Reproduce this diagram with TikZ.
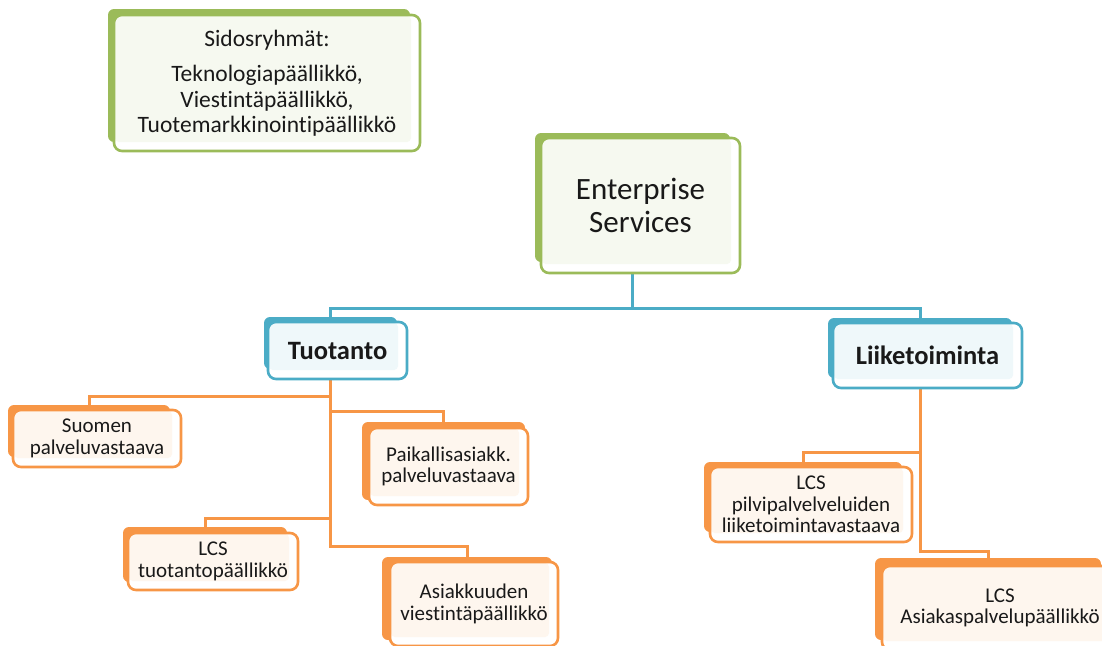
\documentclass[tikz,border=0pt]{standalone}
\usepackage{fontspec}
\setmainfont{Carlito}[Ligatures=NoCommon]
\usetikzlibrary{backgrounds}
\definecolor{lcgreen}{HTML}{9BBB59}
\definecolor{lcblue}{HTML}{4BACC6}
\definecolor{lcorange}{HTML}{F79646}

\begin{document}
\begin{tikzpicture}[%
    x=1pt, y=-1pt,              % one unit = one pixel, y running down
    every node/.style={text=black!90}
    ]
% -------------------------------------------------
% Box styles: a coloured block behind, an outlined card in front
\tikzset{
  back/.style={fill=#1, rounded corners=6pt, inner sep=0pt},
  front/.style={draw=#1, line width=2.6pt, fill=white, rounded corners=8pt,
    inner sep=0pt, align=center,
    path picture={\fill[#1!9, rounded corners=4pt]
      ([shift={(1pt,-1pt)}]path picture bounding box.north west) rectangle
      ([shift={(-9pt,9pt)}]path picture bounding box.south east);}},
  size/.style 2 args={minimum width=#1pt, minimum height=#2pt},
  % -------------------------------------------------
  % text sizes
  big/.style={font=\fontsize{31}{33}\selectfont},
  mid/.style={font=\fontsize{23.5}{25.5}\selectfont},
  head/.style={font=\fontsize{26.5}{28}\selectfont\bfseries},
  small/.style={font=\fontsize{21}{21.5}\selectfont},
  % -------------------------------------------------
  % connector lines
  blink/.style={draw=lcblue, line width=3pt},
  olink/.style={draw=lcorange, line width=3pt}
}
\useasboundingbox (0,0) rectangle (1102,645);
\clip (0,0) rectangle (1102,645);

% -------------------------------------------------
% Back blocks (the connectors hang on these)
\node [back=lcgreen,  size={302}{133}] (sid) at (259,75.5) {};
\node [back=lcgreen,  size={195}{129}] (es)  at (632.5,197.5) {};
\node [back=lcblue,   size={133}{52}]  (tuo) at (330.5,343) {};
\node [back=lcblue,   size={184}{60}]  (lii) at (920,348) {};
\node [back=lcorange, size={162}{52}]  (suo) at (89,431) {};
\node [back=lcorange, size={163}{78}]  (pai) at (443.5,461) {};
\node [back=lcorange, size={164}{55}]  (ltp) at (205,554.5) {};
\node [back=lcorange, size={170}{83}]  (asi) at (467,598.5) {};
\node [back=lcorange, size={198}{70}]  (lpv) at (803,497) {};
\node [back=lcorange, size={226}{82}]  (lap) at (988,599) {};

% -------------------------------------------------
% Front cards with the texts
\node [front=lcgreen, size={306}{136}, mid] (sidf) at (267,83)
  {Sidosryhmät:\\[10pt] Teknologiapäällikkö,\\ Viestintäpäällikkö,\\
   Tuotemarkkinointipäällikkö};
\node [front=lcgreen, size={199}{135}, big] (esf) at (640.5,205.5)
  {Enterprise\\ Services};
\node [front=lcblue, size={139}{57}, head] (tuof) at (337.5,350.5) {Tuotanto};
\node [front=lcblue, size={189}{65}, head] (liif) at (927.5,355.5) {Liiketoiminta};
\node [front=lcorange, size={168}{57}, small] (suof) at (97,438.5)
  {Suomen\\ palveluvastaava};
\node [front=lcorange, size={159}{77}, small] (paif) at (448.5,466.5)
  {Paikallisasiakk.\\ palveluvastaava};
\node [front=lcorange, size={170}{57}, small] (ltpf) at (213,561.5)
  {LCS\\ tuotantopäällikkö};
\node [front=lcorange, size={168}{84}, small] (asif) at (474,604)
  {Asiakkuuden\\ viestintäpäällikkö};
\node [front=lcorange, size={202}{75}, small] (lpvf) at (811,504.5)
  {LCS\\ pilvipalvelveluiden\\ liiketoimintavastaava};
\node [front=lcorange, size={236}{84}, small] (lapf) at (1000,608)
  {LCS\\ Asiakaspalvelupäällikkö};

% -------------------------------------------------
% Connectors, kept behind the boxes
\begin{scope}[on background layer]
  \coordinate (bj) at ([yshift=-46pt]es.south);
  \draw [blink] (es.south) -- (bj) -| (tuo.north);
  \draw [blink] (bj) -| (lii.north);

  \foreach \c/\d in {suo/8pt, pai/10pt, ltp/8pt, asi/10pt}
    \draw [olink] (tuo.south) |- ([yshift=\d]\c.north) -- (\c.north);
  \foreach \c/\d in {lpv/9pt, lap/6pt}
    \draw [olink] (lii.south) |- ([yshift=\d]\c.north) -- (\c.north);
\end{scope}
\end{tikzpicture}
\end{document}
